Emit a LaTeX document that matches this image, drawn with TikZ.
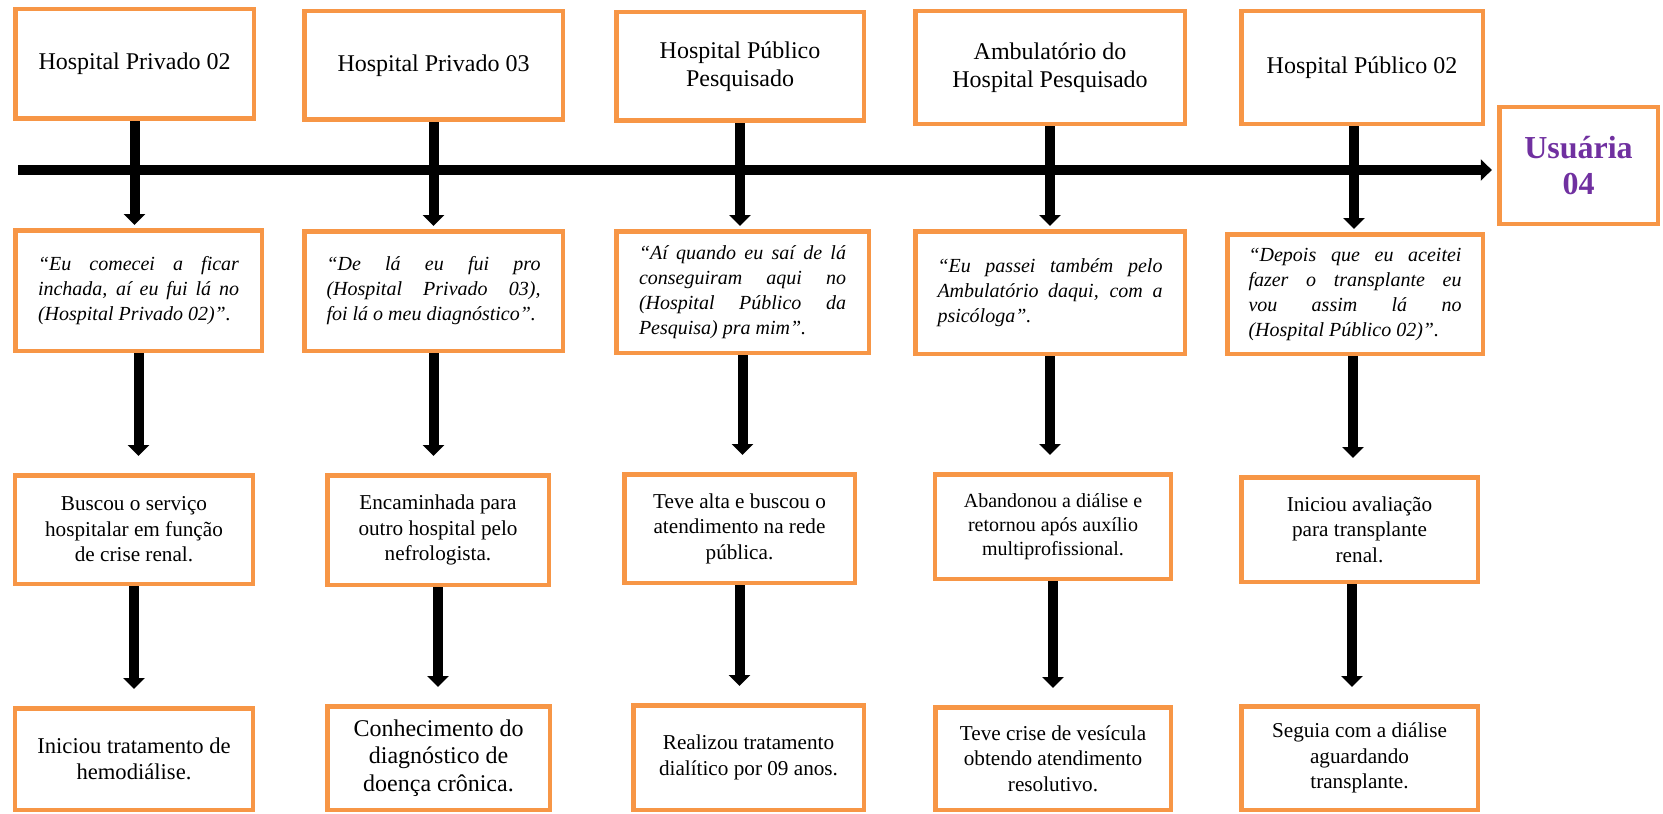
\documentclass[tikz,border=0pt]{standalone}
\usepackage{fontspec}
\setmainfont{Liberation Serif}
\usetikzlibrary{arrows.meta}
\definecolor{boxorange}{HTML}{F79646}
\definecolor{usupurple}{HTML}{7030A0}
\tikzset{
  box/.style={draw=boxorange, line width=2.25pt, inner sep=0pt, align=center},
  place/.style={box, font=\fontsize{12}{13.8}\selectfont},
  quote/.style={box, align=justify, font=\fontsize{10}{12.5}\selectfont\itshape},
  event/.style={box, font=\fontsize{10.6}{12.8}\selectfont},
  flow/.style={line width=5pt, -{Triangle[width=10.5pt,length=5.5pt]}},
}
\begin{document}
\begin{tikzpicture}[x=0.5pt,y=-0.5pt]
\useasboundingbox (0,0) rectangle (1663,813);

\node[place, minimum width=119.25pt, minimum height=54.75pt] (hpriv2) at (134.5,64) {Hospital Privado 02};
\node[place, minimum width=129.25pt, minimum height=54.25pt] (hpriv3) at (433.5,65.5) {Hospital Privado 03};
\node[place, minimum width=123.75pt, minimum height=54.25pt] (hpub) at (740,66.5) {Hospital Público\\Pesquisado};
\node[place, minimum width=134.75pt, minimum height=56.25pt] (amb) at (1050,67.5) {Ambulatório do\\Hospital Pesquisado};
\node[place, minimum width=120.75pt, minimum height=56.25pt] (hpub2) at (1362,67.5) {Hospital Público 02};
\node[box, minimum width=79.25pt, minimum height=58.25pt, font=\fontsize{16}{18.3}\selectfont\bfseries, text=usupurple] (usu) at (1578.5,165.5) {Usuária\\04};

\node[quote, text width=100.5pt, minimum width=123.25pt, minimum height=60.25pt] (q1) at (138.5,290.5)
  {“Eu comecei a ficar\linebreak inchada, aí eu fui lá no\linebreak (Hospital Privado 02)”.};
\node[quote, text width=107pt, minimum width=129.25pt, minimum height=59.75pt] (q2) at (433.5,291)
  {“De lá eu fui pro\linebreak (Hospital Privado 03),\linebreak foi lá o meu diagnóstico”.};
\node[quote, text width=103.5pt, minimum width=126.25pt, minimum height=60.75pt] (q3) at (742.5,292)
  {“Aí quando eu saí de lá\linebreak conseguiram aqui no\linebreak (Hospital Público da\linebreak Pesquisa) pra mim”.};
\node[quote, text width=112.5pt, minimum width=134.75pt, minimum height=61.25pt] (q4) at (1050,292.5)
  {“Eu passei também pelo\linebreak Ambulatório daqui, com a\linebreak psicóloga”.};
\node[quote, text width=106.5pt, minimum width=127.75pt, minimum height=59.75pt] (q5) at (1355,294)
  {“Depois que eu aceitei\linebreak fazer o transplante eu\linebreak vou assim lá no\linebreak (Hospital Público 02)”.};

\node[event, minimum width=119pt, minimum height=54.25pt] (m1) at (134,529.5) {Buscou o serviço\\hospitalar em função\\de crise renal.};
\node[event, minimum width=110.75pt, minimum height=54.75pt] (m2) at (438,530) {Encaminhada para\\outro hospital pelo\\nefrologista.};
\node[event, minimum width=115.25pt, minimum height=54.25pt] (m3) at (739.5,528.5) {Teve alta e buscou o\\atendimento na rede\\pública.};
\node[event, minimum width=118pt, minimum height=52.25pt, font=\fontsize{10}{12}\selectfont] (m4) at (1053,526.5) {Abandonou a diálise e\\retornou após auxílio\\multiprofissional.};
\node[event, minimum width=118.25pt, minimum height=52.25pt] (m5) at (1359.5,529.5) {Iniciou avaliação\\para transplante\\renal.};

\node[event, minimum width=119pt, minimum height=50.75pt, font=\fontsize{11.3}{12.9}\selectfont] (b1) at (134,759) {Iniciou tratamento de\\hemodiálise.};
\node[event, minimum width=111.25pt, minimum height=51.75pt, font=\fontsize{12}{13.8}\selectfont] (b2) at (438.5,758) {Conhecimento do\\diagnóstico de\\doença crônica.};
\node[event, minimum width=115.25pt, minimum height=52.25pt] (b3) at (748.5,757.5) {Realizou tratamento\\dialítico por 09 anos.};
\node[event, minimum width=117.75pt, minimum height=51.25pt] (b4) at (1053,758.5) {Teve crise de vesícula\\obtendo atendimento\\resolutivo.};
\node[event, minimum width=118.25pt, minimum height=51.75pt] (b5) at (1359.5,758) {Seguia com a diálise\\aguardando\\transplante.};

\coordinate (tl) at (18,170);
\draw[flow, shorten >=2.6pt] (tl) -- (tl -| usu.west);

\draw[flow, shorten >=1.5pt] (hpriv2.south) -- (hpriv2.south |- q1.north);
\draw[flow, shorten >=1.5pt] (hpriv3.south) -- (hpriv3.south |- q2.north);
\draw[flow, shorten >=1.5pt] (hpub.south) -- (hpub.south |- q3.north);
\draw[flow, shorten >=1.5pt] (amb.south) -- (amb.south |- q4.north);
\draw[flow, shorten >=1.5pt] ([xshift=-4pt]hpub2.south) -- ([xshift=-4pt]hpub2.south |- q5.north);

\draw[flow, shorten >=8.5pt] (q1.south) -- (q1.south |- m1.north);
\draw[flow, shorten >=8.5pt] (q2.south) -- (q2.south |- m2.north);
\draw[flow, shorten >=8.5pt] (q3.south) -- (q3.south |- m3.north);
\draw[flow, shorten >=8.5pt] (q4.south) -- (q4.south |- m4.north);
\draw[flow, shorten >=8.5pt] ([xshift=-1pt]q5.south) -- ([xshift=-1pt]q5.south |- m5.north);

\draw[flow, shorten >=8.5pt] (m1.south) -- (m1.south |- b1.north);
\draw[flow, shorten >=8.5pt] (m2.south) -- (m2.south |- b2.north);
\draw[flow, shorten >=8.5pt] (m3.south) -- (m3.south |- b3.north);
\draw[flow, shorten >=8.5pt] (m4.south) -- (m4.south |- b4.north);
\draw[flow, shorten >=8.5pt] ([xshift=-3.75pt]m5.south) -- ([xshift=-3.75pt]m5.south |- b5.north);
\end{tikzpicture}
\end{document}
